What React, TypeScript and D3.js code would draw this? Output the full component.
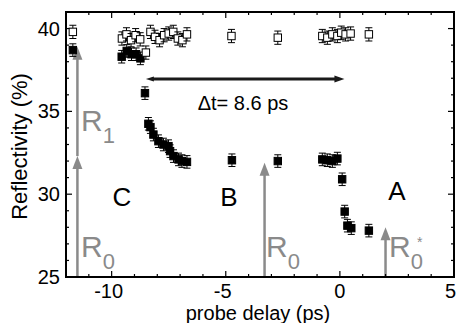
import React from "react";
import * as d3 from "d3";

// open squares (reference, unpumped)
const openX = [-11.7, -9.55, -9.35, -9.15, -8.95, -8.75, -8.5, -8.3, -8.1, -7.9, -7.7, -7.5, -7.3, -7.1, -6.9, -6.7, -4.75, -2.72, -0.77, -0.55, -0.33, -0.11, 0.06, 0.25, 0.47, 1.27];
const openY = [39.8, 39.4, 39.65, 39.3, 39.6, 39.35, 38.55, 39.8, 39.5, 39.3, 39.6, 39.7, 39.8, 39.4, 39.3, 39.65, 39.55, 39.45, 39.55, 39.45, 39.65, 39.55, 39.75, 39.65, 39.7, 39.65];

// filled squares (pumped)
const filledX = [-11.7, -9.56, -9.34, -9.13, -8.93, -8.74, -8.54, -8.39, -8.3, -8.17, -7.95, -7.73, -7.51, -7.44, -7.29, -7.07, -6.92, -6.7, -4.73, -2.72, -0.77, -0.55, -0.33, -0.11, 0.1, 0.21, 0.33, 0.5, 1.27];
const filledY = [38.7, 38.3, 38.65, 38.45, 38.45, 38.2, 36.1, 34.25, 34.05, 33.6, 33.2, 33.0, 32.9, 32.6, 32.3, 32.1, 32.0, 31.95, 32.05, 32.0, 32.1, 32.05, 32.0, 32.15, 30.9, 28.95, 28.1, 27.95, 27.8];

const errOpen = 0.4;
const errFilled = 0.38;

const xMajor = [-10, -5, 0, 5];
const yMajor = [25, 30, 35, 40];

// gray arrows: [x, from, to]
const grayArrows: [number, number, number][] = [
  [-11.5, 25, 32.3],
  [-11.5, 32.3, 38.9],
  [-3.3, 25, 31.9],
  [2.0, 25, 28.0],
];
const deltaArrow = { from: -8.5, to: 0.2, y: 36.95 };

const W = 457;
const H = 323;
const margin = { top: 12, right: 3, bottom: 46, left: 66 };

const App: React.FC = () => {
  const svgRef = React.useRef<SVGSVGElement>(null);

  React.useEffect(() => {
    if (!svgRef.current) return;
    const svg = d3.select(svgRef.current);
    svg.selectAll("*").remove();

    const x = d3.scaleLinear().domain([-12, 5]).range([margin.left, W - margin.right]);
    const y = d3.scaleLinear().domain([25, 41]).range([H - margin.bottom, margin.top]);
    const font = "'Liberation Sans', Arial, sans-serif";
    const gray = "#8a8a8a";

    // gray arrows
    grayArrows.forEach(([ax, y0, y1]) => {
      const px = x(ax);
      svg.append("line")
        .attr("x1", px).attr("x2", px)
        .attr("y1", y(y0)).attr("y2", y(y1) + 10)
        .attr("stroke", gray).attr("stroke-width", 2.5);
      svg.append("path")
        .attr("d", `M${px},${y(y1)} L${px - 5},${y(y1) + 13} L${px + 5},${y(y1) + 13} Z`)
        .attr("fill", gray);
    });

    // delta-t arrow
    const ay = y(deltaArrow.y);
    const ax0 = x(deltaArrow.from);
    const ax1 = x(deltaArrow.to);
    svg.append("line")
      .attr("x1", ax0 + 6).attr("x2", ax1 - 8)
      .attr("y1", ay).attr("y2", ay)
      .attr("stroke", "#1a1a1a").attr("stroke-width", 3);
    svg.append("path")
      .attr("d", `M${ax1},${ay} L${ax1 - 10},${ay - 3.5} L${ax1 - 10},${ay + 3.5} Z`)
      .attr("fill", "#1a1a1a");
    svg.append("path")
      .attr("d", `M${ax0},${ay} L${ax0 + 8},${ay - 2.5} L${ax0 + 8},${ay + 2.5} Z`)
      .attr("fill", "#1a1a1a");

    // frame
    const x0 = margin.left, x1 = W - margin.right, yTop = margin.top, yBot = H - margin.bottom;
    svg.append("rect")
      .attr("x", x0).attr("y", yTop)
      .attr("width", x1 - x0).attr("height", yBot - yTop)
      .attr("fill", "none").attr("stroke", "#000").attr("stroke-width", 2);

    // ticks (inward, all sides)
    const tg = svg.append("g").attr("stroke", "#000").attr("stroke-width", 1.2);
    d3.range(-12, 6, 1).forEach((v) => {
      const len = xMajor.includes(v) ? 6 : 3;
      tg.append("line").attr("x1", x(v)).attr("x2", x(v)).attr("y1", yBot).attr("y2", yBot - len);
      tg.append("line").attr("x1", x(v)).attr("x2", x(v)).attr("y1", yTop).attr("y2", yTop + len);
    });
    d3.range(25, 42, 1).forEach((v) => {
      const len = yMajor.includes(v) ? 6 : 3;
      tg.append("line").attr("x1", x0).attr("x2", x0 + len).attr("y1", y(v)).attr("y2", y(v));
      tg.append("line").attr("x1", x1).attr("x2", x1 - len).attr("y1", y(v)).attr("y2", y(v));
    });

    // tick labels
    xMajor.forEach((v) => {
      svg.append("text")
        .attr("x", v === 5 ? W - 1 : x(v) - (v < 0 ? 3 : 0)).attr("y", yBot + 21)
        .attr("text-anchor", v === 5 ? "end" : "middle")
        .style("font-family", font).style("font-size", "20px")
        .text(v < 0 ? `-${Math.abs(v)}` : `${v}`);
    });
    yMajor.forEach((v) => {
      svg.append("text")
        .attr("x", x0 - 6).attr("y", y(v) + 7)
        .attr("text-anchor", "end")
        .style("font-family", font).style("font-size", "20px")
        .text(`${v}`);
    });

    // axis titles
    svg.append("text")
      .attr("x", (x0 + x1) / 2 - 2).attr("y", H - 3)
      .attr("text-anchor", "middle")
      .style("font-family", font).style("font-size", "20px")
      .text("probe delay (ps)");
    svg.append("text")
      .attr("transform", `translate(27, ${(yTop + yBot) / 2 + 2}) rotate(-90)`)
      .attr("text-anchor", "middle")
      .style("font-family", font).style("font-size", "22px")
      .text("Reflectivity (%)");

    // error bars + squares
    const drawSeries = (xs: number[], ys: number[], err: number, fill: string) => {
      const g = svg.append("g");
      xs.forEach((xv, i) => {
        const px = x(xv);
        const yHi = y(ys[i] + err);
        const yLo = y(ys[i] - err);
        g.append("line").attr("x1", px).attr("x2", px).attr("y1", yHi).attr("y2", yLo)
          .attr("stroke", "#000").attr("stroke-width", 1);
        g.append("line").attr("x1", px - 3.5).attr("x2", px + 3.5).attr("y1", yHi).attr("y2", yHi)
          .attr("stroke", "#000").attr("stroke-width", 1);
        g.append("line").attr("x1", px - 3.5).attr("x2", px + 3.5).attr("y1", yLo).attr("y2", yLo)
          .attr("stroke", "#000").attr("stroke-width", 1);
        g.append("rect")
          .attr("x", px - 3.7).attr("y", y(ys[i]) - 3.7)
          .attr("width", 7.4).attr("height", 7.4)
          .attr("fill", fill).attr("stroke", "#000").attr("stroke-width", 1);
      });
    };
    drawSeries(filledX, filledY, errFilled, "#000");
    drawSeries(openX, openY, errOpen, "#fff");

    // annotation labels
    svg.append("text")
      .attr("x", 243).attr("y", 110)
      .attr("text-anchor", "middle")
      .style("font-family", font).style("font-size", "20px")
      .text("\u0394t= 8.6 ps");

    const big = (tx: number, ty: number, s: string) =>
      svg.append("text").attr("x", tx).attr("y", ty)
        .attr("text-anchor", "middle")
        .style("font-family", font).style("font-size", "26px")
        .text(s);
    big(122, 206, "C");
    big(229, 206, "B");
    big(397, 200, "A");

    const rLabel = (tx: number, ty: number, sub: string, star = false) => {
      const t = svg.append("text").attr("x", tx).attr("y", ty)
        .attr("fill", gray)
        .style("font-family", font).style("font-size", "30px");
      t.append("tspan").text("R");
      t.append("tspan").attr("dy", 12).style("font-size", "22px").text(sub);
      if (star) {
        svg.append("text").attr("x", tx + 28).attr("y", ty - 10)
          .attr("fill", gray)
          .style("font-family", font).style("font-size", "14px").text("*");
      }
    };
    rLabel(81, 131, "1");
    rLabel(81, 257, "0");
    rLabel(266, 257, "0");
    rLabel(389, 257, "0", true);
  }, []);

  return (
    <svg
      ref={svgRef}
      width={W}
      height={H}
      style={{ position: "absolute", left: 0, top: 0, background: "#fff" }}
    />
  );
};

export default App;
